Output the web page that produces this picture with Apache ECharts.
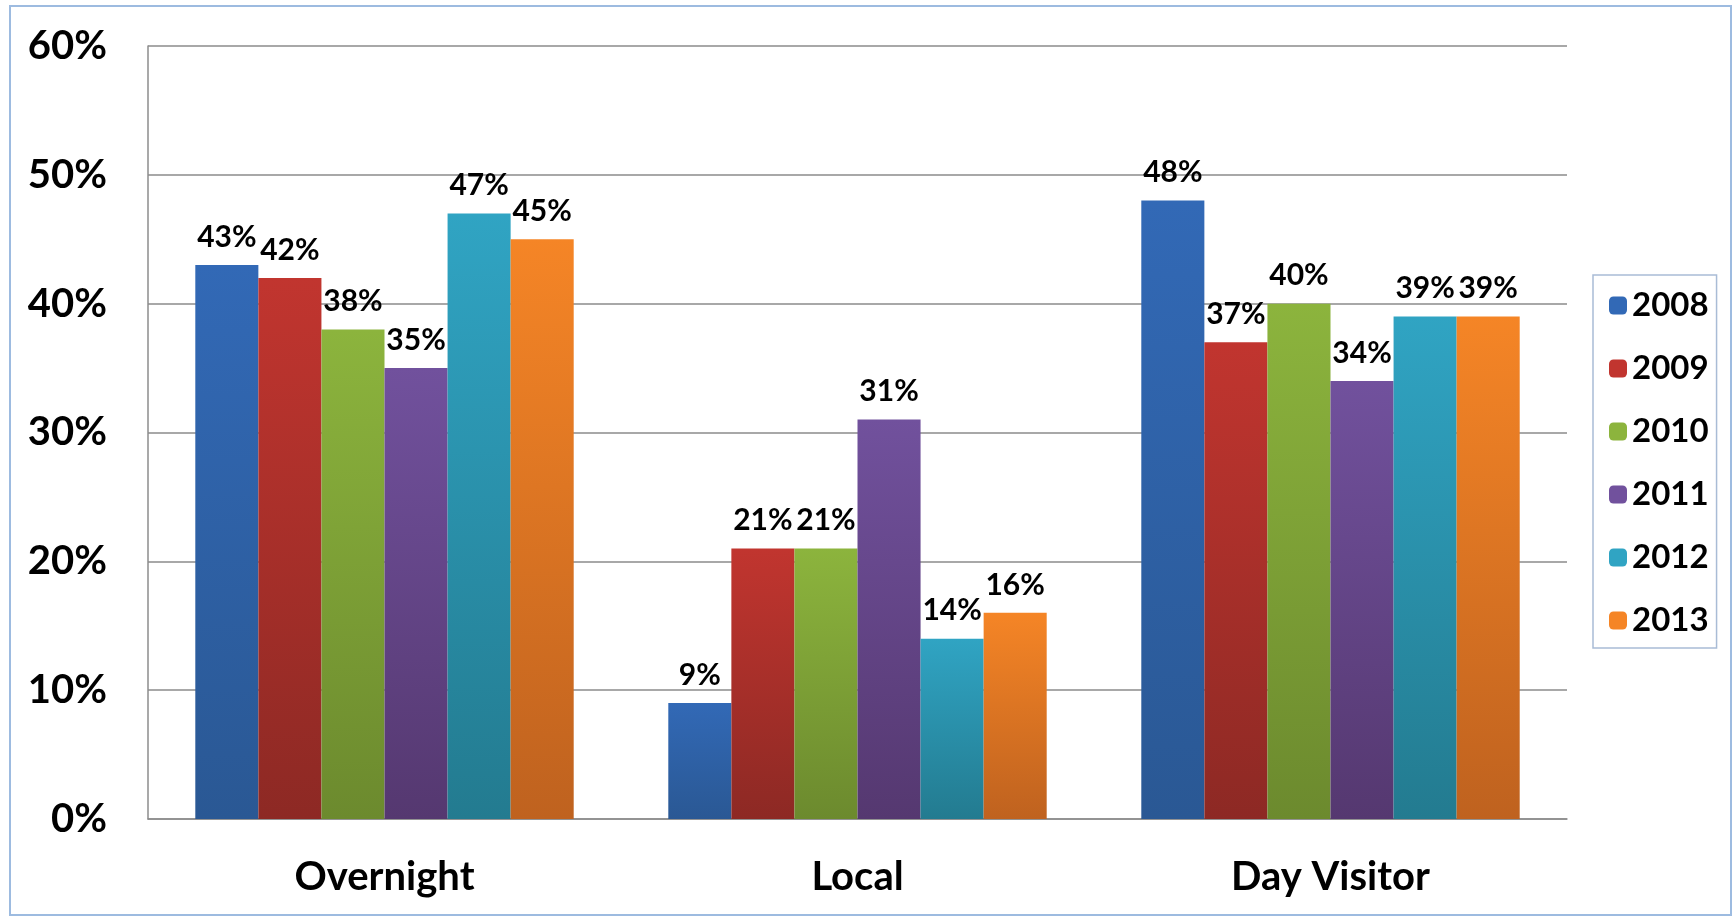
<!DOCTYPE html>
<html>
<head>
<meta charset="utf-8">
<title>Visitor share by year</title>
<script src="https://cdn.jsdelivr.net/npm/echarts@6/dist/echarts.min.js"></script>
<style>
  html, body { margin: 0; padding: 0; background: #ffffff; }
  #chart { width: 1733px; height: 917px; }
</style>
</head>
<body>
<div id="chart"></div>
<script>
// Visitor types on the category axis
var categories = ['Overnight', 'Local', 'Day Visitor'];

// Share (%) per visitor type, one array per survey year
var years = ['2008', '2009', '2010', '2011', '2012', '2013'];
var share2008 = [43, 9, 48];
var share2009 = [42, 21, 37];
var share2010 = [38, 21, 40];
var share2011 = [35, 31, 34];
var share2012 = [47, 14, 39];
var share2013 = [45, 16, 39];
var seriesValues = [share2008, share2009, share2010, share2011, share2012, share2013];

// Value axis ticks (percent)
var yTicks = [0, 10, 20, 30, 40, 50, 60];

// Bar fills: lighter at the top, darker at the base
var barShades = [
  ['#3269b6', '#2a5894'],
  ['#c1352f', '#8d2924'],
  ['#8cb43d', '#6c8a2e'],
  ['#71519d', '#553870'],
  ['#30a4c3', '#237b90'],
  ['#f58526', '#bf621f']
];

var FONT = 'Lato, "Open Sans", sans-serif';

var chart = echarts.init(document.getElementById('chart'), null, { renderer: 'canvas' });

var series = years.map(function (year, i) {
  return {
    name: year,
    type: 'bar',
    data: seriesValues[i],
    barGap: '0%',
    barCategoryGap: '20%',
    itemStyle: {
      color: new echarts.graphic.LinearGradient(0, 0, 0, 1, [
        { offset: 0, color: barShades[i][0] },
        { offset: 1, color: barShades[i][1] }
      ])
    },
    label: {
      show: true,
      position: 'top',
      distance: 13,
      formatter: '{c}%',
      fontFamily: FONT,
      fontWeight: 'bold',
      fontSize: 30,
      color: '#000000'
    },
    emphasis: { disabled: true }
  };
});

chart.setOption({
  animation: false,
  backgroundColor: '#ffffff',
  graphic: [{
    type: 'rect',
    shape: { x: 10, y: 6, width: 1721, height: 909 },
    style: { fill: 'none', stroke: '#9dbbe0', lineWidth: 2 },
    silent: true
  }],
  grid: {
    left: 148,
    right: 166,
    top: 46,
    bottom: 98,
    containLabel: false
  },
  legend: {
    orient: 'vertical',
    left: 1593,
    top: 275,
    padding: [14, 8, 11, 16],
    borderColor: '#a9bcd6',
    borderWidth: 1.5,
    itemWidth: 18,
    itemHeight: 18,
    itemGap: 30,
    itemTextGap: 11,
    data: years.map(function (y, i) {
      return { name: y, itemStyle: { color: barShades[i][0] } };
    }),
    textStyle: {
      fontFamily: FONT,
      fontWeight: 'bold',
      fontSize: 33,
      lineHeight: 33,
      color: '#000000'
    }
  },
  xAxis: {
    type: 'category',
    data: categories,
    axisLine: { show: true, lineStyle: { color: '#8c8c8c', width: 1.5 } },
    axisTick: { show: false },
    axisLabel: {
      margin: 38,
      fontFamily: FONT,
      fontWeight: 'bold',
      fontSize: 40,
      color: '#000000'
    }
  },
  yAxis: {
    type: 'value',
    min: yTicks[0],
    max: yTicks[yTicks.length - 1],
    interval: yTicks[1] - yTicks[0],
    axisLine: { show: true, lineStyle: { color: '#8c8c8c', width: 1.5 } },
    axisTick: { show: false },
    splitLine: { show: true, lineStyle: { color: '#a8a8a8', width: 2 } },
    axisLabel: {
      margin: 41,
      formatter: '{value}%',
      fontFamily: FONT,
      fontWeight: 'bold',
      fontSize: 40,
      color: '#000000'
    }
  },
  series: series
});
</script>
</body>
</html>
